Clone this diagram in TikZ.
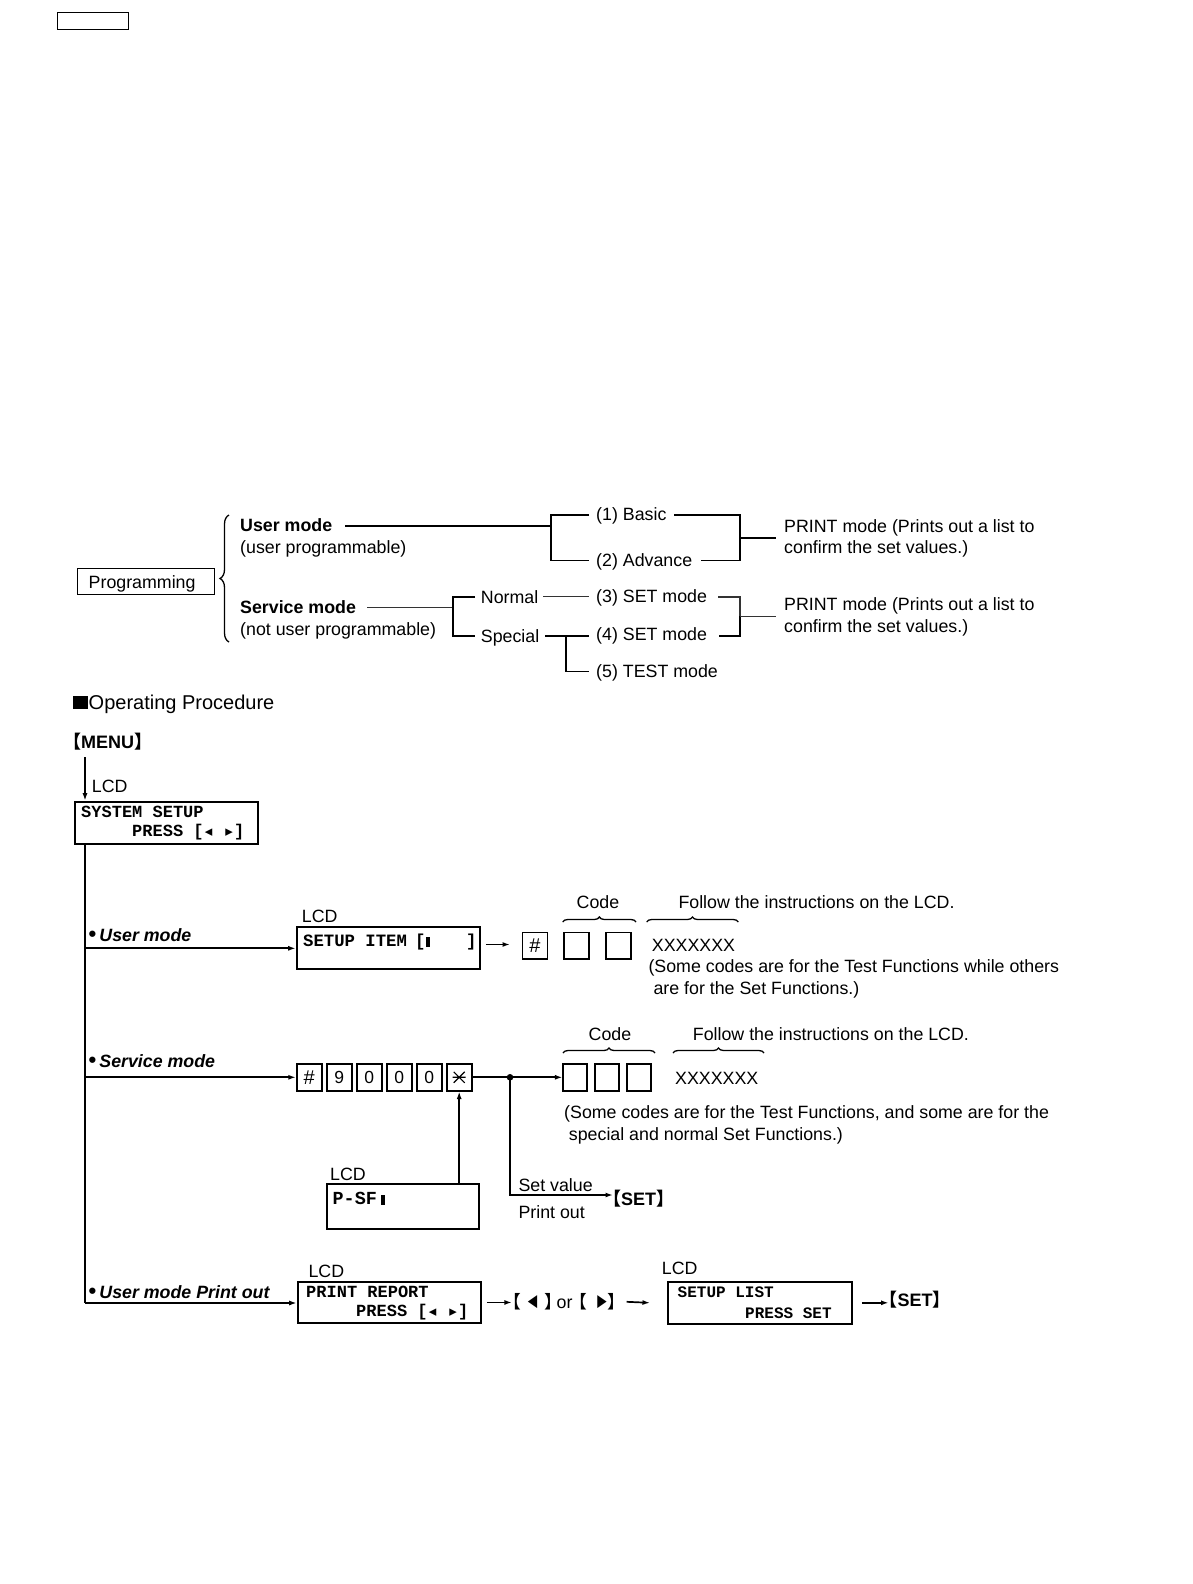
\documentclass[tikz,border=0pt]{standalone}
\usepackage{fontspec}
\usepackage{graphicx}
\setmainfont{Liberation Sans}
\setmonofont{Liberation Mono}
\newfontfamily\dejavu{DejaVu Sans}
\newfontfamily\cjk{Noto Sans CJK JP}[RawFeature=+halt]
\usetikzlibrary{arrows.meta,decorations.pathreplacing}
\newcommand{\fs}[1]{\fontsize{#1}{#1}\selectfont}
\newcommand{\lcdL}{\makebox[0.6em]{\dejavu\fs{15}◂}}
\newcommand{\lcdR}{\makebox[0.6em]{\dejavu\fs{15}▸}}
\tikzset{
 txt/.style={inner sep=0pt, anchor=west, font=\fs{17.8}, text height=12.7pt, text depth=0pt},
 btxt/.style={txt, font=\bfseries\fs{17.8}},
 bitxt/.style={txt, font=\bfseries\itshape\fs{17.8}},
 lcdtxt/.style={inner sep=0pt, anchor=west, font=\ttfamily\bfseries\fs{17}, text height=11pt, text depth=0pt},
 ln/.style={line width=1.8pt},
 thinln/.style={line width=1.1pt, black!80},
 arr/.style={line width=1.7pt, -{Latex[length=7.5pt,width=5pt]}},
 lcdbox/.style={draw, line width=1.9pt, inner sep=0pt, anchor=north west},
 keybox/.style={draw, line width=1.7pt, inner sep=0pt, minimum width=25pt, minimum height=26.7pt, font=\fs{17.5}},
 brc/.style={decorate, decoration={brace, amplitude=5pt}, line width=1.3pt},
}
\begin{document}
\begin{tikzpicture}[x=1pt,y=-1pt]
\useasboundingbox (0,0) rectangle (1192,1584);
\fill[white] (0,0) rectangle (1192,1584);

% header box
\node[draw, line width=1.2pt, inner sep=0pt, minimum width=71pt, minimum height=17pt, anchor=north west] (hdr) at (57,12) {};

% ---------- top tree ----------
\node[draw, line width=1.4pt, anchor=north west, minimum height=26pt, text width=115pt, inner xsep=11pt, inner ysep=0pt, font=\fs{17.8}, text height=12.7pt, text depth=0pt] (prog) at (77,568) {Programming};
\draw[brc, decoration={brace, amplitude=9pt}] (229,642) -- (229,515);

\node[btxt] (um) at (240,525.5) {User mode};
\node[txt] (ump) at (240,547.5) {(user programmable)};
\node[btxt] (sm) at (240,607) {Service mode};
\node[txt] (smp) at (240,629.5) {(not user programmable)};
\node[txt] (nor) at (480.7,597) {Normal};
\node[txt] (spe) at (480.7,636) {Special};
\node[txt] (b1) at (596,514.5) {(1) Basic};
\node[txt] (b2) at (596,560) {(2) Advance};
\node[txt] (b3) at (596,596) {(3) SET mode};
\node[txt] (b4) at (596,634.5) {(4) SET mode};
\node[txt] (b5) at (596,671) {(5) TEST mode};
\node[txt] (pm1a) at (784,526) {PRINT mode (Prints out a list to};
\node[txt] (pm1b) at (784,547) {confirm the set values.)};
\node[txt] (pm2a) at (784,604) {PRINT mode (Prints out a list to};
\node[txt] (pm2b) at (784,626) {confirm the set values.)};

\coordinate (uA) at (345,525.6); \coordinate (jA) at (551,525.6);
\draw[ln] (uA) -- (jA);
\coordinate (b1L) at (589,514.8); \coordinate (b2L) at (589,560.5);
\draw[ln] (b1L) -| (jA) |- (b2L);
\coordinate (b1R) at (674,514.8); \coordinate (b2R) at (701,560.5);
\coordinate (jB) at (740,537.6); \coordinate (pB) at (776,537.6);
\draw[ln] (b1R) -| (jB) |- (b2R);
\draw[ln] (jB) -- (pB);

\coordinate (sA) at (367,607.7); \coordinate (jC) at (452.7,607.7);
\draw[thinln] (sA) -- (jC);
\coordinate (nL) at (475,596.7); \coordinate (spL) at (475,636);
\draw[ln] (nL) -| (jC) |- (spL);
\coordinate (nR) at (543,596.5); \coordinate (b3L) at (589,596.5);
\draw[thinln] (nR) -- (b3L);
\coordinate (spR) at (545,636); \coordinate (b4L) at (589,636);
\coordinate (jD) at (565.7,636); \coordinate (b5L) at (589,671.5);
\draw[ln] (spR) -- (b4L);
\draw[ln] (jD) |- (b5L);
\coordinate (b3R) at (718,597); \coordinate (b4R) at (719,635.7);
\coordinate (jE) at (740,616.3); \coordinate (pE) at (776,616.3);
\draw[thinln] (b3R) -| (jE);
\draw[ln] (jE) |- (b4R);
\draw[thinln] (jE) -- (pE);

% ---------- operating procedure ----------
\node[fill, inner sep=0pt, minimum width=14.6pt, minimum height=13pt, anchor=north west] (sq) at (72.7,696.2) {};
\node[txt, font=\fs{20}, text height=14.3pt] (op) at (88.5,702.5) {Operating Procedure};
\node[txt, font=\bfseries\fs{18}] (menu) at (72,741.7) {{\cjk 【}MENU{\cjk 】}};

\coordinate (m1) at (85,757);
\node[lcdbox, minimum width=182.7pt, minimum height=42pt] (sys) at (74,800.7) {};
\draw[arr] (m1) -- (m1 |- sys.north);
\node[txt] (lcd0) at (91.7,786) {LCD};
\node[lcdtxt] (sys1) at (81,812) {SYSTEM SETUP};
\node[lcdtxt] (sys2) at (132,830.5) {PRESS [\lcdL\ \lcdR]};

% main vertical line
\coordinate (jU) at (85,948.3);
\coordinate (jS) at (85,1077.3);
\coordinate (jP) at (85,1303);
\draw[ln] (m1 |- sys.south) -- (jP);

% user mode row
\node[bitxt] (lu) at (88.5,935) {\textup{\fs{22}•}\hspace{3pt}User mode};
\node[lcdbox, minimum width=183.3pt, minimum height=42pt] (setup) at (295.7,925.7) {};
\draw[arr] (jU) -- (jU -| setup.west);
\node[txt] (lcd1) at (301.7,916) {LCD};
\node[lcdtxt, font=\ttfamily\bfseries\fs{17.3}] (si1) at (303,941.3) {SETUP ITEM};
\node[lcdtxt, font=\ttfamily\bfseries\fs{17.3}] (si2) at (415,941.3) {[\rule[-0.3pt]{4.5pt}{10.5pt}};
\node[lcdtxt, font=\ttfamily\bfseries\fs{17.3}] (si3) at (466,941.3) {]};
\coordinate (ua1) at (510,944.5);
\draw[arr] (ua1 -| setup.east) ++(5,0) -- (ua1);
\node[keybox, font=\fs{20}] (uh) at (535,945.7) {\#};
\node[keybox] (uc1) at (576.7,945.7) {};
\node[keybox] (uc2) at (618.5,945.7) {};
\draw[brc] (562.7,922) -- (636,922);
\draw[brc] (646.7,922) -- (738.3,922);
\node[txt, anchor=center] (cd1) at (598,902.5) {Code};
\node[txt] (fi1) at (678.3,901.7) {Follow the instructions on the LCD.};
\node[txt] (xx1) at (651.7,945) {XXXXXXX};
\node[txt] (n1a) at (648.3,966.5) {(Some codes are for the Test Functions while others};
\node[txt] (n1b) at (653.3,988) {are for the Set Functions.)};

% service mode row
\node[bitxt] (ls) at (88.5,1061.5) {\textup{\fs{22}•}\hspace{3pt}Service mode};
\node[keybox, font=\fs{20}] (k1) at (309.2,1077.3) {\#};
\node[keybox] (k2) at (339.2,1077.3) {9};
\node[keybox] (k3) at (369.2,1077.3) {0};
\node[keybox] (k4) at (399.2,1077.3) {0};
\node[keybox] (k5) at (429.2,1077.3) {0};
\node[keybox] (k6) at (459.2,1077.3) {};
\draw[line width=1.2pt] ([xshift=-6.5pt]k6.center) -- ([xshift=6.5pt]k6.center)
  ([shift={(-5.5,-5.5)}]k6.center) -- ([shift={(5.5,5.5)}]k6.center)
  ([shift={(-5.5,5.5)}]k6.center) -- ([shift={(5.5,-5.5)}]k6.center);
\draw[arr] (jS) -- (k1.west);
\coordinate (dot) at (510,1077.3);
\node[keybox, minimum width=24pt] (c3a) at (575.3,1077.3) {};
\node[keybox, minimum width=24pt] (c3b) at (607,1077.3) {};
\node[keybox, minimum width=24pt] (c3c) at (639.2,1077.3) {};
\draw[ln] (k6.east) -- (dot);
\draw[arr] (dot) -- (c3a.west);
\fill (dot) circle (3.3pt);
\draw[brc] (563,1053) -- (655,1053);
\draw[brc] (673,1053) -- (764,1053);
\node[txt, anchor=center] (cd2) at (610,1033.8) {Code};
\node[txt] (fi2) at (692.7,1033.8) {Follow the instructions on the LCD.};
\node[txt] (xx2) at (675,1078) {XXXXXXX};
\node[txt] (n2a) at (564,1112) {(Some codes are for the Test Functions, and some are for the};
\node[txt] (n2b) at (568.7,1134) {special and normal Set Functions.)};

\node[lcdbox, minimum width=152pt, minimum height=45pt] (psf) at (325.7,1182.7) {};
\node[txt] (lcd2) at (330,1173.8) {LCD};
\node[lcdtxt, font=\ttfamily\bfseries\fs{18.4}] (psft) at (332.5,1199) {P-SF\hspace{4pt}\rule[-0.3pt]{4.5pt}{9.5pt}};
\draw[arr] (psf.north -| k6) -- (k6.south);

\node[txt, font=\bfseries\fs{18}] (set1) at (612,1199) {{\cjk 【}SET{\cjk 】}};
\coordinate (sv) at (613,1195);
\draw[arr] (dot) |- (sv);
\node[txt] (setv) at (518.3,1184.7) {Set value};
\node[txt] (prto) at (518.3,1211.7) {Print out};

% user mode print out row
\node[bitxt] (lp) at (88.5,1291.7) {\textup{\fs{22}•}\hspace{3pt}User mode Print out};
\node[lcdbox, minimum width=183.3pt, minimum height=41pt] (pr) at (296.7,1281) {};
\draw[arr] (jP) -- (jP -| pr.west);
\node[txt] (lcd3) at (308.3,1271) {LCD};
\node[lcdtxt] (pr1) at (306,1291.7) {PRINT REPORT};
\node[lcdtxt] (pr2) at (356,1310.8) {PRESS [\lcdL\ \lcdR]};
\draw[arr] ([xshift=5pt]pr.east) -- ++(25,0);

\node[txt, font=\cjk\fs{17.8}] (kl1) at (512,1301.7) {【};
\node[inner sep=0pt, font=\dejavu\fs{17}] (tl) at (532.5,1301.7) {\scalebox{0.72}[1]{◀}};
\node[txt, font=\cjk\fs{17.8}, anchor=east] (kr1) at (554,1301.7) {】};
\node[txt] (kor) at (556.5,1301.7) {or};
\node[txt, font=\cjk\fs{17.8}] (kl2) at (578,1301.7) {【};
\node[inner sep=0pt, font=\dejavu\fs{17}] (tr) at (602,1301.7) {\scalebox{0.72}[1]{▶}};
\node[txt, font=\cjk\fs{17.8}, anchor=east] (kr2) at (617,1301.7) {】};

\node[lcdbox, minimum width=184pt, minimum height=42.3pt] (sl) at (666.7,1280.7) {};
\coordinate (pa2) at (626.7,1301.8);
\draw[arr] (pa2) -- ([xshift=-16.7pt]sl.west);
\node[txt] (lcd4) at (661.7,1268) {LCD};
\node[lcdtxt, font=\ttfamily\bfseries\fs{16}] (sl1) at (677.5,1291.7) {SETUP LIST};
\node[lcdtxt, font=\ttfamily\bfseries\fs{16}] (sl2) at (745,1313.3) {PRESS SET};
\draw[arr] ([xshift=9.3pt]sl.east) -- ++(26.7,0);
\node[txt, font=\bfseries\fs{18}] (set2) at (888.5,1300) {{\cjk 【}SET{\cjk 】}};
\end{tikzpicture}
\end{document}
